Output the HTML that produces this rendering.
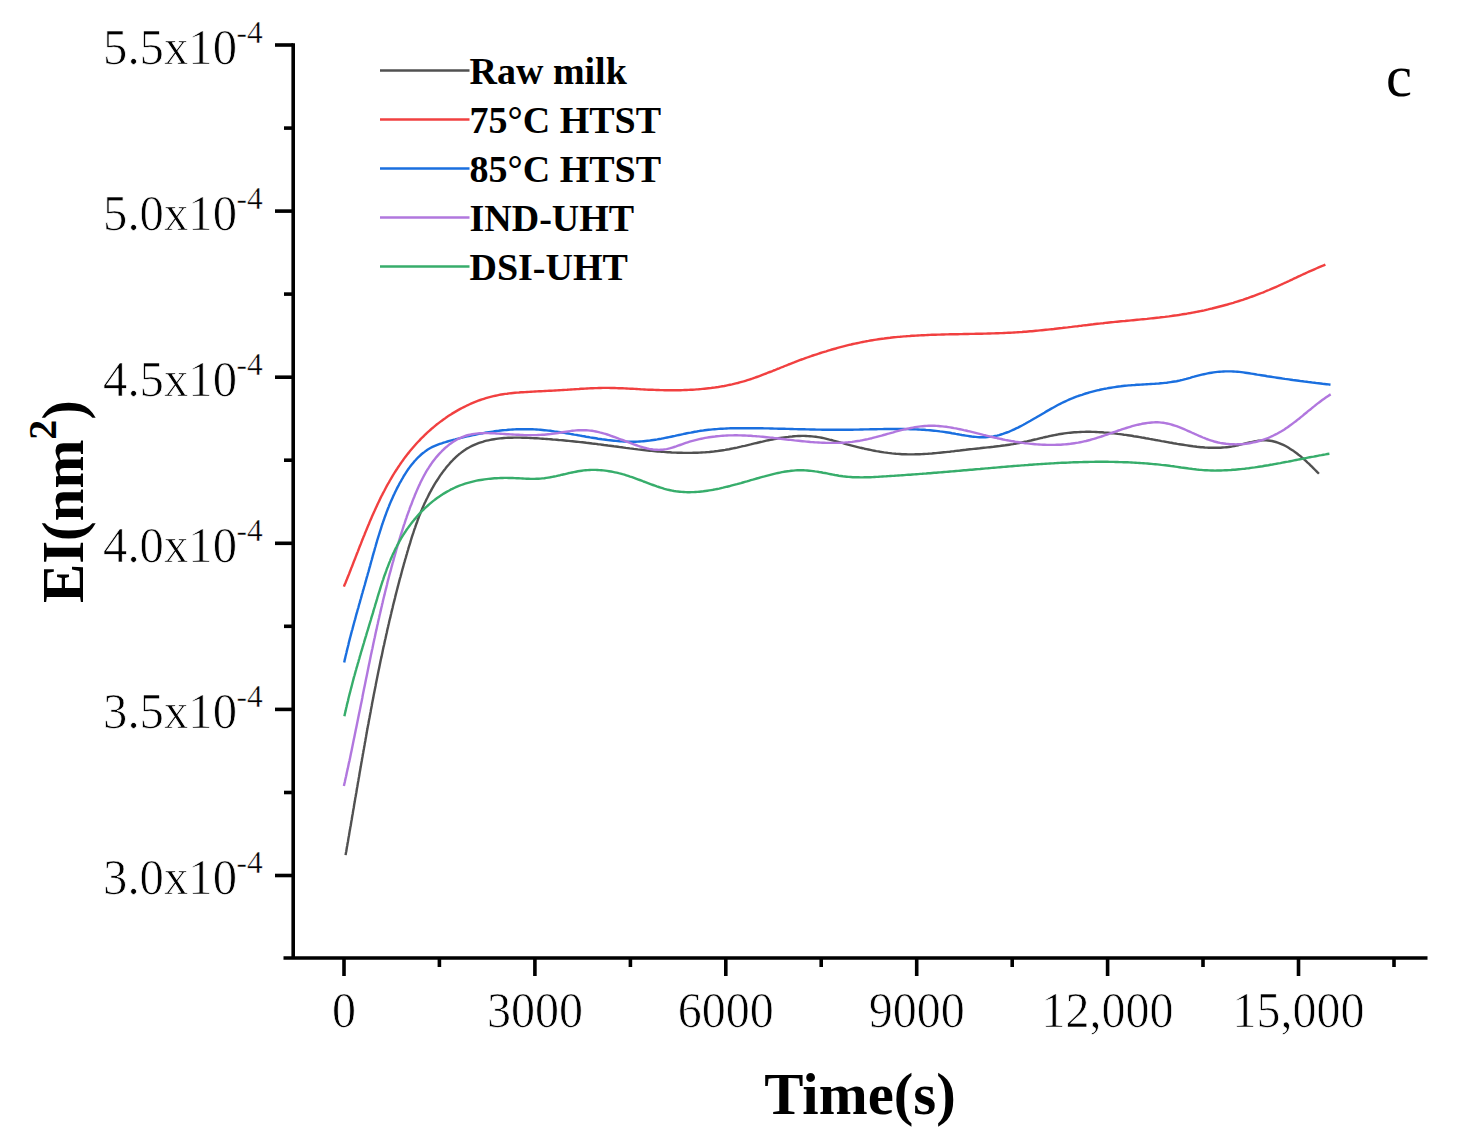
<!DOCTYPE html>
<html><head><meta charset="utf-8"><title>EI chart</title>
<style>html,body{margin:0;padding:0;background:#fff;}body{width:1457px;height:1135px;overflow:hidden;font-family:"Liberation Serif",serif;}svg{display:block;}</style>
</head><body>
<svg width="1457" height="1135" viewBox="0 0 1457 1135">
<rect width="1457" height="1135" fill="#fff"/>
<g stroke="#000" stroke-width="3.6" fill="none" stroke-linecap="butt">
<path d="M293.2 43.2 V958.0"/>
<path d="M283.5 958.0 H1427.5"/>
<path d="M275 45.0 H293.2"/>
<path d="M275 211.1 H293.2"/>
<path d="M275 377.2 H293.2"/>
<path d="M275 543.3 H293.2"/>
<path d="M275 709.4 H293.2"/>
<path d="M275 875.5 H293.2"/>
<path d="M284 128.1 H293.2"/>
<path d="M284 294.1 H293.2"/>
<path d="M284 460.2 H293.2"/>
<path d="M284 626.3 H293.2"/>
<path d="M284 792.5 H293.2"/>
<path d="M344.0 958.0 V976"/>
<path d="M534.9 958.0 V976"/>
<path d="M725.8 958.0 V976"/>
<path d="M916.7 958.0 V976"/>
<path d="M1107.6 958.0 V976"/>
<path d="M1298.5 958.0 V976"/>
<path d="M439.4 958.0 V967"/>
<path d="M630.4 958.0 V967"/>
<path d="M821.2 958.0 V967"/>
<path d="M1012.2 958.0 V967"/>
<path d="M1203.0 958.0 V967"/>
<path d="M1394.0 958.0 V967"/>
</g>
<g font-family="Liberation Serif" fill="#000" stroke="#fff" stroke-width="0.7">
<g transform="translate(237 63.8) scale(1.015 1.050)"><text x="0" y="0" font-size="48" text-anchor="end">5.5x10</text><text x="-0.5" y="-20" font-size="31" stroke-width="0.4">-4</text></g>
<g transform="translate(237 229.9) scale(1.015 1.050)"><text x="0" y="0" font-size="48" text-anchor="end">5.0x10</text><text x="-0.5" y="-20" font-size="31" stroke-width="0.4">-4</text></g>
<g transform="translate(237 396.0) scale(1.015 1.050)"><text x="0" y="0" font-size="48" text-anchor="end">4.5x10</text><text x="-0.5" y="-20" font-size="31" stroke-width="0.4">-4</text></g>
<g transform="translate(237 562.1) scale(1.015 1.050)"><text x="0" y="0" font-size="48" text-anchor="end">4.0x10</text><text x="-0.5" y="-20" font-size="31" stroke-width="0.4">-4</text></g>
<g transform="translate(237 728.2) scale(1.015 1.050)"><text x="0" y="0" font-size="48" text-anchor="end">3.5x10</text><text x="-0.5" y="-20" font-size="31" stroke-width="0.4">-4</text></g>
<g transform="translate(237 894.3) scale(1.015 1.050)"><text x="0" y="0" font-size="48" text-anchor="end">3.0x10</text><text x="-0.5" y="-20" font-size="31" stroke-width="0.4">-4</text></g>
<g transform="translate(344.0 1026.8) scale(1 1.050)"><text x="0" y="0" font-size="48" text-anchor="middle">0</text></g>
<g transform="translate(534.9 1026.8) scale(1 1.050)"><text x="0" y="0" font-size="48" text-anchor="middle">3000</text></g>
<g transform="translate(725.8 1026.8) scale(1 1.050)"><text x="0" y="0" font-size="48" text-anchor="middle">6000</text></g>
<g transform="translate(916.7 1026.8) scale(1 1.050)"><text x="0" y="0" font-size="48" text-anchor="middle">9000</text></g>
<g transform="translate(1107.6 1026.8) scale(1 1.050)"><text x="0" y="0" font-size="48" text-anchor="middle">12,000</text></g>
<g transform="translate(1298.5 1026.8) scale(1 1.050)"><text x="0" y="0" font-size="48" text-anchor="middle">15,000</text></g>
</g>
<text x="860" y="1114" font-family="Liberation Serif" font-weight="bold" font-size="58.8" text-anchor="middle">Time(s)</text>
<g transform="translate(82.5 603) rotate(-90)"><text x="0" y="0" font-family="Liberation Serif" font-weight="bold" font-size="58.8">EI(nm<tspan font-size="40" dy="-27">2</tspan><tspan dy="27">)</tspan></text></g>
<text x="1386" y="96.3" font-family="Liberation Serif" font-size="58.5">c</text>
<path d="M380 70.5 H469.5" stroke="#515151" stroke-width="2.6"/>
<text x="469.5" y="84.3" font-family="Liberation Serif" font-weight="bold" font-size="38">Raw milk</text>
<path d="M380 119.5 H469.5" stroke="#F14040" stroke-width="2.6"/>
<text x="469.5" y="133.3" font-family="Liberation Serif" font-weight="bold" font-size="38">75°C HTST</text>
<path d="M380 168.5 H469.5" stroke="#1A6FDF" stroke-width="2.6"/>
<text x="469.5" y="182.3" font-family="Liberation Serif" font-weight="bold" font-size="38">85°C HTST</text>
<path d="M380 217.5 H469.5" stroke="#B177DE" stroke-width="2.6"/>
<text x="469.5" y="231.3" font-family="Liberation Serif" font-weight="bold" font-size="38">IND-UHT</text>
<path d="M380 266.5 H469.5" stroke="#37AD6B" stroke-width="2.6"/>
<text x="469.5" y="280.3" font-family="Liberation Serif" font-weight="bold" font-size="38">DSI-UHT</text>
<g fill="none" stroke-width="2.4" stroke-linejoin="round" stroke-linecap="butt">
<path stroke="#515151" d="M345.6 855.1 L345.9 853.1 L346.3 851.2 L346.6 849.2 L346.9 847.2 L347.3 845.3 L347.6 843.3 L348.0 841.4 L348.3 839.4 L348.6 837.4 L349.0 835.5 L349.3 833.5 L349.6 831.6 L350.0 829.6 L350.3 827.6 L350.7 825.7 L351.0 823.7 L351.3 821.7 L351.7 819.8 L352.0 817.8 L352.3 815.8 L352.7 813.9 L353.0 811.9 L353.3 809.9 L353.7 808.0 L354.0 806.0 L354.3 804.0 L354.7 802.1 L355.0 800.1 L355.3 798.1 L355.7 796.2 L356.0 794.2 L356.4 792.2 L356.7 790.3 L357.0 788.3 L357.4 786.3 L357.7 784.4 L358.0 782.4 L358.4 780.4 L358.7 778.4 L359.1 776.5 L359.4 774.5 L359.7 772.5 L360.1 770.6 L360.4 768.6 L360.8 766.6 L361.1 764.6 L361.4 762.7 L361.8 760.7 L362.1 758.7 L362.5 756.8 L362.8 754.8 L363.2 752.8 L363.5 750.8 L363.9 748.9 L364.2 746.9 L364.6 744.9 L364.9 742.9 L365.3 741.0 L365.6 739.0 L366.0 737.0 L366.3 735.1 L366.7 733.1 L367.0 731.1 L367.4 729.1 L367.7 727.2 L368.1 725.2 L368.5 723.2 L368.8 721.3 L369.2 719.3 L369.6 717.3 L369.9 715.4 L370.3 713.4 L370.7 711.4 L371.0 709.4 L371.4 707.5 L371.8 705.5 L372.1 703.5 L372.5 701.6 L372.9 699.6 L373.3 697.6 L373.6 695.7 L374.0 693.7 L374.4 691.7 L374.8 689.8 L375.2 687.8 L375.6 685.8 L375.9 683.9 L376.3 681.9 L376.7 679.9 L377.1 678.0 L377.5 676.0 L377.9 674.1 L378.3 672.1 L378.7 670.1 L379.1 668.2 L379.5 666.2 L379.9 664.3 L380.3 662.3 L380.7 660.3 L381.1 658.4 L381.6 656.4 L382.0 654.5 L382.4 652.5 L382.8 650.5 L383.2 648.6 L383.6 646.6 L384.1 644.7 L384.5 642.7 L384.9 640.8 L385.4 638.8 L385.8 636.9 L386.2 634.9 L386.7 633.0 L387.1 631.0 L387.5 629.1 L388.0 627.1 L388.4 625.2 L388.9 623.2 L389.3 621.3 L389.8 619.3 L390.3 617.4 L390.7 615.5 L391.2 613.5 L391.6 611.6 L392.1 609.6 L392.6 607.7 L393.0 605.8 L393.5 603.8 L394.0 601.9 L394.5 599.9 L395.0 598.0 L395.4 596.1 L395.9 594.1 L396.4 592.2 L396.9 590.3 L397.4 588.4 L397.9 586.4 L398.4 584.5 L398.9 582.6 L399.4 580.6 L399.9 578.7 L400.5 576.8 L401.0 574.9 L401.5 573.0 L402.0 571.0 L402.5 569.1 L403.1 567.2 L403.6 565.3 L404.1 563.4 L404.7 561.4 L405.2 559.5 L405.8 557.6 L406.3 555.7 L406.9 553.8 L407.4 551.9 L408.0 550.0 L408.5 548.1 L409.1 546.2 L409.7 544.3 L410.3 542.4 L410.8 540.5 L411.4 538.6 L412.0 536.7 L412.6 534.8 L413.3 532.9 L413.9 531.0 L414.5 529.2 L415.2 527.3 L415.8 525.4 L416.5 523.5 L417.2 521.7 L417.8 519.8 L418.5 518.0 L419.2 516.1 L420.0 514.3 L420.7 512.4 L421.5 510.6 L422.2 508.8 L423.0 507.0 L423.8 505.1 L424.6 503.3 L425.5 501.5 L426.3 499.7 L427.2 498.0 L428.1 496.2 L429.0 494.4 L429.9 492.6 L430.9 490.9 L431.8 489.1 L432.8 487.4 L433.8 485.6 L434.8 483.9 L435.9 482.2 L437.0 480.5 L438.1 478.8 L439.2 477.1 L440.3 475.4 L441.5 473.8 L442.7 472.1 L443.9 470.5 L445.2 468.9 L446.4 467.3 L447.7 465.7 L449.1 464.2 L450.4 462.6 L451.8 461.2 L453.2 459.7 L454.6 458.3 L456.1 456.9 L457.5 455.6 L459.0 454.3 L460.6 453.1 L462.1 451.9 L463.7 450.8 L465.3 449.7 L466.9 448.6 L468.6 447.7 L470.3 446.8 L472.0 445.9 L473.7 445.1 L475.5 444.3 L477.3 443.6 L479.1 442.9 L480.9 442.3 L482.7 441.8 L484.6 441.2 L486.5 440.7 L488.4 440.3 L490.3 439.9 L492.2 439.5 L494.1 439.2 L496.1 438.9 L498.0 438.6 L500.0 438.4 L502.0 438.2 L504.0 438.0 L506.0 437.9 L508.0 437.8 L510.0 437.7 L512.1 437.7 L514.1 437.6 L516.1 437.6 L518.2 437.6 L520.2 437.6 L522.3 437.7 L524.3 437.7 L526.4 437.8 L528.4 437.9 L530.5 438.0 L532.5 438.1 L534.6 438.2 L536.6 438.3 L538.6 438.4 L540.7 438.6 L542.7 438.7 L544.7 438.9 L546.7 439.0 L548.7 439.1 L550.7 439.3 L552.7 439.5 L554.7 439.6 L556.7 439.8 L558.7 440.0 L560.7 440.1 L562.7 440.3 L564.7 440.5 L566.6 440.7 L568.6 440.9 L570.6 441.1 L572.5 441.3 L574.5 441.5 L576.5 441.7 L578.4 441.9 L580.4 442.1 L582.4 442.3 L584.3 442.5 L586.3 442.8 L588.3 443.0 L590.2 443.2 L592.2 443.5 L594.2 443.7 L596.1 443.9 L598.1 444.2 L600.1 444.4 L602.0 444.7 L604.0 445.0 L606.0 445.2 L608.0 445.5 L610.0 445.7 L611.9 446.0 L613.9 446.3 L615.9 446.5 L617.9 446.8 L619.9 447.1 L621.8 447.3 L623.8 447.6 L625.8 447.9 L627.8 448.1 L629.8 448.4 L631.8 448.6 L633.8 448.9 L635.8 449.1 L637.8 449.4 L639.8 449.6 L641.7 449.8 L643.7 450.1 L645.7 450.3 L647.7 450.5 L649.7 450.7 L651.7 450.9 L653.7 451.1 L655.7 451.3 L657.7 451.5 L659.7 451.6 L661.7 451.8 L663.7 451.9 L665.7 452.1 L667.7 452.2 L669.7 452.3 L671.7 452.5 L673.6 452.6 L675.6 452.6 L677.6 452.7 L679.6 452.8 L681.6 452.8 L683.6 452.9 L685.6 452.9 L687.6 452.9 L689.6 452.9 L691.6 452.9 L693.5 452.8 L695.5 452.8 L697.5 452.7 L699.5 452.6 L701.5 452.5 L703.5 452.4 L705.5 452.3 L707.4 452.1 L709.4 452.0 L711.4 451.8 L713.4 451.6 L715.3 451.3 L717.3 451.1 L719.3 450.8 L721.3 450.5 L723.2 450.2 L725.2 449.9 L727.2 449.5 L729.1 449.2 L731.1 448.8 L733.1 448.4 L735.0 448.0 L737.0 447.6 L739.0 447.1 L740.9 446.7 L742.9 446.2 L744.8 445.8 L746.8 445.3 L748.8 444.8 L750.7 444.4 L752.7 443.9 L754.6 443.4 L756.6 443.0 L758.6 442.5 L760.5 442.0 L762.5 441.6 L764.5 441.1 L766.4 440.7 L768.4 440.3 L770.4 439.9 L772.3 439.5 L774.3 439.1 L776.3 438.7 L778.2 438.3 L780.2 438.0 L782.2 437.7 L784.2 437.4 L786.2 437.1 L788.1 436.9 L790.1 436.6 L792.1 436.5 L794.1 436.3 L796.1 436.1 L798.1 436.0 L800.0 436.0 L802.0 435.9 L804.0 435.9 L806.0 436.0 L807.9 436.1 L809.9 436.2 L811.9 436.4 L813.9 436.6 L815.8 436.8 L817.8 437.1 L819.7 437.4 L821.7 437.8 L823.6 438.2 L825.6 438.6 L827.5 439.1 L829.5 439.6 L831.4 440.0 L833.4 440.6 L835.3 441.1 L837.3 441.6 L839.2 442.1 L841.1 442.7 L843.1 443.2 L845.0 443.8 L847.0 444.3 L848.9 444.8 L850.9 445.3 L852.8 445.8 L854.8 446.3 L856.7 446.8 L858.7 447.3 L860.6 447.8 L862.6 448.2 L864.5 448.7 L866.5 449.1 L868.4 449.5 L870.4 449.9 L872.3 450.3 L874.3 450.7 L876.3 451.1 L878.2 451.4 L880.2 451.8 L882.1 452.1 L884.1 452.4 L886.1 452.6 L888.1 452.9 L890.0 453.1 L892.0 453.4 L894.0 453.6 L895.9 453.8 L897.9 453.9 L899.9 454.0 L901.9 454.2 L903.9 454.3 L905.9 454.3 L907.9 454.4 L909.8 454.4 L911.8 454.4 L913.8 454.4 L915.8 454.3 L917.8 454.3 L919.8 454.2 L921.8 454.1 L923.8 454.0 L925.8 453.9 L927.8 453.8 L929.8 453.6 L931.8 453.5 L933.8 453.3 L935.8 453.1 L937.8 452.9 L939.8 452.7 L941.8 452.5 L943.8 452.3 L945.8 452.1 L947.8 451.9 L949.8 451.7 L951.8 451.4 L953.8 451.2 L955.8 450.9 L957.8 450.7 L959.8 450.5 L961.8 450.2 L963.8 450.0 L965.8 449.8 L967.8 449.5 L969.8 449.3 L971.8 449.1 L973.8 448.9 L975.7 448.7 L977.7 448.5 L979.7 448.3 L981.7 448.0 L983.7 447.8 L985.6 447.6 L987.6 447.4 L989.6 447.2 L991.5 447.0 L993.5 446.8 L995.5 446.5 L997.5 446.3 L999.4 446.1 L1001.4 445.8 L1003.4 445.5 L1005.3 445.3 L1007.3 445.0 L1009.3 444.7 L1011.2 444.4 L1013.2 444.1 L1015.1 443.7 L1017.1 443.4 L1019.1 443.0 L1021.0 442.6 L1023.0 442.2 L1025.0 441.8 L1026.9 441.4 L1028.9 440.9 L1030.9 440.5 L1032.8 440.0 L1034.8 439.5 L1036.8 439.1 L1038.7 438.6 L1040.7 438.1 L1042.7 437.7 L1044.6 437.2 L1046.6 436.8 L1048.6 436.3 L1050.6 435.9 L1052.5 435.5 L1054.5 435.1 L1056.5 434.7 L1058.4 434.3 L1060.4 434.0 L1062.4 433.7 L1064.4 433.4 L1066.4 433.1 L1068.3 432.9 L1070.3 432.7 L1072.3 432.5 L1074.3 432.3 L1076.2 432.2 L1078.2 432.1 L1080.2 432.0 L1082.2 431.9 L1084.2 431.9 L1086.2 431.8 L1088.1 431.8 L1090.1 431.8 L1092.1 431.9 L1094.1 431.9 L1096.1 432.0 L1098.1 432.1 L1100.0 432.2 L1102.0 432.3 L1104.0 432.5 L1106.0 432.6 L1108.0 432.8 L1110.0 433.0 L1111.9 433.2 L1113.9 433.4 L1115.9 433.6 L1117.9 433.9 L1119.9 434.1 L1121.9 434.4 L1123.9 434.7 L1125.8 434.9 L1127.8 435.2 L1129.8 435.5 L1131.8 435.8 L1133.8 436.2 L1135.8 436.5 L1137.7 436.8 L1139.7 437.1 L1141.7 437.5 L1143.7 437.8 L1145.7 438.2 L1147.7 438.5 L1149.6 438.9 L1151.6 439.2 L1153.6 439.6 L1155.6 440.0 L1157.6 440.3 L1159.5 440.7 L1161.5 441.1 L1163.5 441.4 L1165.5 441.8 L1167.4 442.1 L1169.4 442.5 L1171.4 442.8 L1173.4 443.2 L1175.3 443.5 L1177.3 443.9 L1179.3 444.2 L1181.2 444.5 L1183.2 444.8 L1185.2 445.1 L1187.1 445.4 L1189.1 445.7 L1191.1 446.0 L1193.0 446.3 L1195.0 446.5 L1196.9 446.8 L1198.9 447.0 L1200.9 447.2 L1202.8 447.3 L1204.8 447.5 L1206.8 447.6 L1208.7 447.7 L1210.7 447.8 L1212.7 447.8 L1214.6 447.8 L1216.6 447.8 L1218.6 447.8 L1220.6 447.7 L1222.5 447.5 L1224.5 447.4 L1226.5 447.2 L1228.5 447.0 L1230.5 446.7 L1232.4 446.4 L1234.4 446.0 L1236.4 445.6 L1238.4 445.2 L1240.4 444.7 L1242.4 444.2 L1244.4 443.7 L1246.4 443.2 L1248.4 442.7 L1250.4 442.3 L1252.4 441.8 L1254.3 441.4 L1256.3 441.1 L1258.3 440.8 L1260.3 440.6 L1262.2 440.4 L1264.2 440.3 L1266.2 440.3 L1268.1 440.5 L1270.1 440.7 L1272.0 441.0 L1273.9 441.5 L1275.8 442.0 L1277.7 442.6 L1279.6 443.3 L1281.4 444.1 L1283.3 444.9 L1285.1 445.8 L1286.9 446.8 L1288.6 447.8 L1290.3 448.9 L1292.0 450.0 L1293.7 451.1 L1295.3 452.3 L1297.0 453.5 L1298.5 454.7 L1300.1 455.9 L1301.6 457.2 L1303.2 458.5 L1304.7 459.9 L1306.1 461.2 L1307.6 462.6 L1309.1 463.9 L1310.5 465.3 L1311.9 466.7 L1313.3 468.1 L1314.7 469.5 L1316.1 470.9 L1317.5 472.3 L1318.9 473.8"/>
<path stroke="#F14040" d="M343.9 586.6 L344.6 584.8 L345.4 583.0 L346.1 581.2 L346.9 579.3 L347.6 577.5 L348.3 575.7 L349.1 573.9 L349.8 572.0 L350.5 570.2 L351.2 568.3 L352.0 566.5 L352.7 564.6 L353.4 562.8 L354.1 560.9 L354.9 559.1 L355.6 557.2 L356.3 555.4 L357.0 553.5 L357.8 551.6 L358.5 549.8 L359.2 547.9 L359.9 546.0 L360.7 544.2 L361.4 542.3 L362.1 540.4 L362.9 538.6 L363.6 536.7 L364.4 534.9 L365.1 533.0 L365.9 531.1 L366.7 529.3 L367.4 527.4 L368.2 525.6 L369.0 523.7 L369.7 521.9 L370.5 520.0 L371.3 518.2 L372.1 516.3 L372.9 514.5 L373.7 512.7 L374.6 510.8 L375.4 509.0 L376.2 507.2 L377.1 505.4 L377.9 503.5 L378.8 501.7 L379.7 499.9 L380.5 498.1 L381.4 496.3 L382.3 494.6 L383.2 492.8 L384.2 491.0 L385.1 489.2 L386.0 487.5 L387.0 485.7 L387.9 484.0 L388.9 482.3 L389.9 480.5 L390.9 478.8 L391.9 477.1 L392.9 475.4 L394.0 473.7 L395.0 472.0 L396.1 470.3 L397.2 468.7 L398.3 467.0 L399.4 465.4 L400.5 463.7 L401.6 462.1 L402.8 460.5 L403.9 458.9 L405.1 457.3 L406.3 455.7 L407.5 454.1 L408.8 452.6 L410.0 451.0 L411.3 449.5 L412.6 448.0 L413.9 446.5 L415.2 445.0 L416.5 443.5 L417.9 442.0 L419.3 440.6 L420.6 439.1 L422.1 437.7 L423.5 436.3 L424.9 434.9 L426.4 433.5 L427.8 432.1 L429.3 430.8 L430.8 429.5 L432.3 428.2 L433.9 426.9 L435.4 425.6 L437.0 424.3 L438.6 423.1 L440.2 421.9 L441.8 420.7 L443.4 419.5 L445.0 418.4 L446.6 417.2 L448.3 416.1 L450.0 415.0 L451.7 413.9 L453.4 412.9 L455.1 411.9 L456.8 410.9 L458.5 409.9 L460.3 408.9 L462.0 408.0 L463.8 407.1 L465.6 406.2 L467.4 405.3 L469.2 404.5 L471.0 403.7 L472.8 402.9 L474.6 402.1 L476.5 401.4 L478.3 400.7 L480.2 400.0 L482.0 399.4 L483.9 398.8 L485.8 398.2 L487.7 397.6 L489.6 397.1 L491.5 396.6 L493.4 396.1 L495.4 395.7 L497.3 395.3 L499.2 394.9 L501.2 394.5 L503.1 394.2 L505.1 393.9 L507.1 393.7 L509.1 393.4 L511.0 393.2 L513.0 393.0 L515.0 392.8 L517.0 392.6 L519.0 392.5 L521.0 392.3 L523.0 392.2 L525.0 392.1 L527.0 392.0 L529.0 391.9 L531.0 391.7 L533.0 391.6 L535.0 391.5 L537.0 391.4 L539.0 391.3 L541.0 391.2 L543.0 391.1 L545.0 391.0 L547.1 390.9 L549.1 390.8 L551.1 390.7 L553.1 390.6 L555.1 390.5 L557.1 390.4 L559.1 390.2 L561.1 390.1 L563.1 390.0 L565.1 389.9 L567.1 389.8 L569.1 389.6 L571.0 389.5 L573.0 389.4 L575.0 389.2 L577.0 389.1 L579.0 389.0 L581.0 388.8 L583.0 388.7 L585.0 388.6 L587.0 388.5 L588.9 388.4 L590.9 388.3 L592.9 388.2 L594.9 388.1 L596.9 388.1 L598.8 388.0 L600.8 388.0 L602.8 387.9 L604.8 387.9 L606.8 387.9 L608.8 387.9 L610.7 388.0 L612.7 388.0 L614.7 388.0 L616.7 388.1 L618.7 388.2 L620.7 388.2 L622.6 388.3 L624.6 388.4 L626.6 388.5 L628.6 388.6 L630.6 388.7 L632.6 388.8 L634.6 388.9 L636.6 389.0 L638.6 389.1 L640.5 389.3 L642.5 389.4 L644.5 389.5 L646.5 389.6 L648.5 389.7 L650.5 389.8 L652.5 389.8 L654.5 389.9 L656.5 390.0 L658.5 390.0 L660.5 390.1 L662.5 390.1 L664.6 390.2 L666.6 390.2 L668.6 390.2 L670.6 390.2 L672.6 390.3 L674.6 390.2 L676.6 390.2 L678.6 390.2 L680.6 390.2 L682.6 390.1 L684.6 390.0 L686.6 390.0 L688.6 389.9 L690.6 389.8 L692.6 389.7 L694.6 389.6 L696.6 389.4 L698.6 389.3 L700.6 389.1 L702.6 388.9 L704.5 388.7 L706.5 388.5 L708.5 388.3 L710.5 388.1 L712.5 387.8 L714.4 387.6 L716.4 387.3 L718.4 387.0 L720.3 386.6 L722.3 386.3 L724.3 386.0 L726.2 385.6 L728.1 385.2 L730.1 384.8 L732.0 384.4 L734.0 383.9 L735.9 383.4 L737.8 383.0 L739.7 382.4 L741.7 381.9 L743.6 381.4 L745.5 380.8 L747.4 380.2 L749.3 379.6 L751.2 379.0 L753.0 378.3 L754.9 377.7 L756.8 377.0 L758.7 376.3 L760.6 375.6 L762.4 374.9 L764.3 374.2 L766.2 373.5 L768.0 372.7 L769.9 372.0 L771.8 371.3 L773.6 370.5 L775.5 369.8 L777.3 369.0 L779.2 368.3 L781.1 367.5 L782.9 366.8 L784.8 366.0 L786.6 365.3 L788.5 364.5 L790.4 363.8 L792.2 363.1 L794.1 362.4 L796.0 361.6 L797.9 360.9 L799.7 360.2 L801.6 359.5 L803.5 358.9 L805.4 358.2 L807.2 357.5 L809.1 356.8 L811.0 356.2 L812.9 355.5 L814.8 354.9 L816.7 354.3 L818.6 353.7 L820.5 353.0 L822.4 352.4 L824.3 351.8 L826.2 351.3 L828.1 350.7 L830.0 350.1 L831.9 349.5 L833.8 349.0 L835.7 348.5 L837.6 347.9 L839.5 347.4 L841.4 346.9 L843.4 346.4 L845.3 345.9 L847.2 345.4 L849.1 344.9 L851.1 344.5 L853.0 344.0 L854.9 343.6 L856.9 343.2 L858.8 342.8 L860.7 342.4 L862.7 342.0 L864.6 341.6 L866.6 341.2 L868.5 340.9 L870.5 340.5 L872.4 340.2 L874.4 339.9 L876.3 339.6 L878.3 339.3 L880.2 339.0 L882.2 338.7 L884.2 338.5 L886.1 338.2 L888.1 338.0 L890.1 337.8 L892.0 337.5 L894.0 337.3 L896.0 337.1 L898.0 336.9 L900.0 336.8 L901.9 336.6 L903.9 336.4 L905.9 336.3 L907.9 336.1 L909.9 336.0 L911.9 335.8 L913.9 335.7 L915.9 335.6 L917.9 335.5 L919.8 335.4 L921.8 335.3 L923.8 335.2 L925.8 335.1 L927.8 335.0 L929.8 334.9 L931.8 334.8 L933.8 334.8 L935.8 334.7 L937.8 334.6 L939.8 334.6 L941.9 334.5 L943.9 334.5 L945.9 334.4 L947.9 334.4 L949.9 334.3 L951.9 334.3 L953.9 334.2 L955.9 334.2 L957.9 334.2 L959.9 334.1 L961.9 334.1 L963.9 334.0 L965.9 334.0 L968.0 334.0 L970.0 333.9 L972.0 333.9 L974.0 333.9 L976.0 333.8 L978.0 333.8 L980.0 333.7 L982.0 333.7 L984.0 333.6 L986.0 333.6 L988.0 333.5 L990.0 333.5 L992.0 333.4 L994.1 333.4 L996.1 333.3 L998.1 333.2 L1000.1 333.1 L1002.1 333.1 L1004.1 333.0 L1006.1 332.9 L1008.1 332.8 L1010.1 332.7 L1012.1 332.6 L1014.1 332.5 L1016.1 332.4 L1018.0 332.2 L1020.0 332.1 L1022.0 332.0 L1024.0 331.8 L1026.0 331.7 L1028.0 331.5 L1030.0 331.3 L1032.0 331.2 L1034.0 331.0 L1035.9 330.8 L1037.9 330.6 L1039.9 330.4 L1041.9 330.2 L1043.9 330.0 L1045.9 329.8 L1047.8 329.6 L1049.8 329.4 L1051.8 329.2 L1053.8 329.0 L1055.7 328.7 L1057.7 328.5 L1059.7 328.3 L1061.7 328.1 L1063.7 327.8 L1065.6 327.6 L1067.6 327.4 L1069.6 327.1 L1071.6 326.9 L1073.5 326.6 L1075.5 326.4 L1077.5 326.2 L1079.5 325.9 L1081.4 325.7 L1083.4 325.4 L1085.4 325.2 L1087.4 325.0 L1089.4 324.7 L1091.3 324.5 L1093.3 324.3 L1095.3 324.0 L1097.3 323.8 L1099.3 323.6 L1101.2 323.4 L1103.2 323.2 L1105.2 322.9 L1107.2 322.7 L1109.2 322.5 L1111.2 322.3 L1113.2 322.1 L1115.1 321.9 L1117.1 321.7 L1119.1 321.5 L1121.1 321.3 L1123.1 321.1 L1125.1 321.0 L1127.1 320.8 L1129.1 320.6 L1131.1 320.4 L1133.1 320.2 L1135.1 320.0 L1137.1 319.8 L1139.1 319.6 L1141.0 319.4 L1143.0 319.2 L1145.0 319.1 L1147.0 318.9 L1149.0 318.6 L1151.0 318.4 L1153.0 318.2 L1155.0 318.0 L1157.0 317.8 L1159.0 317.6 L1161.0 317.3 L1162.9 317.1 L1164.9 316.9 L1166.9 316.6 L1168.9 316.4 L1170.9 316.1 L1172.9 315.8 L1174.8 315.5 L1176.8 315.3 L1178.8 315.0 L1180.8 314.6 L1182.7 314.3 L1184.7 314.0 L1186.7 313.7 L1188.6 313.3 L1190.6 313.0 L1192.6 312.6 L1194.5 312.3 L1196.5 311.9 L1198.5 311.5 L1200.4 311.1 L1202.4 310.7 L1204.3 310.3 L1206.3 309.8 L1208.2 309.4 L1210.2 308.9 L1212.1 308.5 L1214.0 308.0 L1216.0 307.5 L1217.9 307.0 L1219.8 306.5 L1221.8 306.0 L1223.7 305.5 L1225.6 305.0 L1227.5 304.5 L1229.4 303.9 L1231.4 303.3 L1233.3 302.8 L1235.2 302.2 L1237.1 301.6 L1239.0 301.0 L1240.9 300.4 L1242.8 299.8 L1244.7 299.1 L1246.6 298.5 L1248.4 297.9 L1250.3 297.2 L1252.2 296.5 L1254.1 295.8 L1255.9 295.1 L1257.8 294.4 L1259.7 293.7 L1261.5 293.0 L1263.4 292.3 L1265.2 291.5 L1267.1 290.7 L1268.9 290.0 L1270.8 289.2 L1272.6 288.4 L1274.4 287.6 L1276.3 286.8 L1278.1 286.0 L1279.9 285.2 L1281.7 284.3 L1283.5 283.5 L1285.4 282.7 L1287.2 281.8 L1289.0 281.0 L1290.8 280.1 L1292.6 279.3 L1294.4 278.4 L1296.2 277.6 L1298.1 276.7 L1299.9 275.9 L1301.7 275.0 L1303.5 274.2 L1305.3 273.4 L1307.1 272.5 L1308.9 271.7 L1310.8 270.9 L1312.6 270.1 L1314.4 269.3 L1316.2 268.5 L1318.1 267.7 L1319.9 266.9 L1321.7 266.1 L1323.6 265.4 L1325.4 264.6"/>
<path stroke="#1A6FDF" d="M344.2 662.4 L344.6 660.4 L345.1 658.4 L345.5 656.5 L346.0 654.5 L346.5 652.5 L346.9 650.6 L347.4 648.6 L347.9 646.7 L348.4 644.8 L348.8 642.8 L349.3 640.9 L349.8 638.9 L350.3 637.0 L350.8 635.1 L351.3 633.1 L351.8 631.2 L352.4 629.3 L352.9 627.3 L353.4 625.4 L353.9 623.5 L354.4 621.6 L355.0 619.6 L355.5 617.7 L356.0 615.8 L356.5 613.9 L357.1 611.9 L357.6 610.0 L358.2 608.1 L358.7 606.2 L359.2 604.3 L359.8 602.4 L360.3 600.4 L360.9 598.5 L361.4 596.6 L361.9 594.7 L362.5 592.8 L363.0 590.8 L363.6 588.9 L364.1 587.0 L364.7 585.1 L365.2 583.2 L365.8 581.2 L366.3 579.3 L366.8 577.4 L367.4 575.5 L367.9 573.5 L368.5 571.6 L369.0 569.7 L369.5 567.8 L370.1 565.8 L370.6 563.9 L371.1 562.0 L371.7 560.0 L372.2 558.1 L372.7 556.2 L373.3 554.2 L373.8 552.3 L374.4 550.4 L374.9 548.5 L375.5 546.5 L376.0 544.6 L376.6 542.7 L377.1 540.7 L377.7 538.8 L378.3 536.9 L378.9 535.0 L379.5 533.1 L380.1 531.2 L380.7 529.3 L381.3 527.3 L381.9 525.4 L382.6 523.5 L383.2 521.6 L383.9 519.8 L384.5 517.9 L385.2 516.0 L385.9 514.1 L386.6 512.2 L387.3 510.4 L388.0 508.5 L388.8 506.6 L389.5 504.8 L390.3 502.9 L391.1 501.1 L391.9 499.2 L392.7 497.4 L393.5 495.6 L394.4 493.8 L395.2 492.0 L396.1 490.2 L397.0 488.4 L397.9 486.6 L398.9 484.8 L399.8 483.0 L400.8 481.3 L401.8 479.5 L402.8 477.8 L403.8 476.0 L404.9 474.3 L406.0 472.6 L407.1 470.9 L408.2 469.3 L409.4 467.6 L410.6 466.0 L411.8 464.5 L413.1 462.9 L414.3 461.4 L415.7 460.0 L417.0 458.5 L418.4 457.1 L419.8 455.8 L421.2 454.5 L422.7 453.3 L424.3 452.1 L425.8 450.9 L427.4 449.8 L429.1 448.8 L430.8 447.8 L432.5 446.9 L434.3 446.1 L436.1 445.3 L437.9 444.6 L439.8 443.9 L441.7 443.3 L443.6 442.6 L445.5 442.1 L447.5 441.5 L449.4 440.9 L451.4 440.4 L453.3 439.9 L455.3 439.4 L457.2 438.8 L459.2 438.3 L461.2 437.9 L463.1 437.4 L465.1 436.9 L467.1 436.4 L469.0 436.0 L471.0 435.6 L473.0 435.1 L475.0 434.7 L476.9 434.3 L478.9 433.9 L480.9 433.5 L482.9 433.2 L484.8 432.8 L486.8 432.5 L488.8 432.2 L490.8 431.9 L492.8 431.6 L494.7 431.3 L496.7 431.0 L498.7 430.8 L500.7 430.5 L502.7 430.3 L504.7 430.1 L506.6 430.0 L508.6 429.8 L510.6 429.6 L512.6 429.5 L514.6 429.4 L516.6 429.3 L518.6 429.2 L520.6 429.2 L522.5 429.2 L524.5 429.1 L526.5 429.2 L528.5 429.2 L530.5 429.2 L532.5 429.3 L534.5 429.4 L536.5 429.5 L538.5 429.6 L540.4 429.8 L542.4 430.0 L544.4 430.2 L546.4 430.4 L548.4 430.6 L550.4 430.8 L552.4 431.1 L554.4 431.4 L556.4 431.6 L558.3 431.9 L560.3 432.2 L562.3 432.6 L564.3 432.9 L566.3 433.2 L568.3 433.5 L570.3 433.9 L572.2 434.2 L574.2 434.6 L576.2 434.9 L578.2 435.3 L580.2 435.6 L582.2 436.0 L584.1 436.3 L586.1 436.7 L588.1 437.0 L590.1 437.4 L592.1 437.7 L594.1 438.0 L596.0 438.3 L598.0 438.7 L600.0 439.0 L602.0 439.3 L604.0 439.5 L605.9 439.8 L607.9 440.1 L609.9 440.3 L611.9 440.5 L613.9 440.7 L615.8 440.9 L617.8 441.1 L619.8 441.3 L621.8 441.4 L623.8 441.5 L625.7 441.6 L627.7 441.7 L629.7 441.7 L631.7 441.7 L633.6 441.7 L635.6 441.7 L637.6 441.6 L639.6 441.5 L641.5 441.4 L643.5 441.2 L645.5 441.0 L647.5 440.8 L649.4 440.6 L651.4 440.3 L653.4 440.0 L655.3 439.7 L657.3 439.4 L659.3 439.0 L661.3 438.7 L663.2 438.3 L665.2 437.9 L667.2 437.5 L669.1 437.1 L671.1 436.7 L673.1 436.3 L675.0 435.9 L677.0 435.4 L679.0 435.0 L681.0 434.6 L682.9 434.2 L684.9 433.7 L686.9 433.3 L688.9 432.9 L690.8 432.6 L692.8 432.2 L694.8 431.8 L696.8 431.5 L698.7 431.1 L700.7 430.8 L702.7 430.6 L704.7 430.3 L706.7 430.0 L708.6 429.8 L710.6 429.6 L712.6 429.4 L714.6 429.2 L716.6 429.1 L718.6 428.9 L720.5 428.8 L722.5 428.7 L724.5 428.6 L726.5 428.5 L728.5 428.4 L730.5 428.3 L732.5 428.3 L734.5 428.2 L736.4 428.2 L738.4 428.2 L740.4 428.2 L742.4 428.2 L744.4 428.1 L746.4 428.2 L748.4 428.2 L750.4 428.2 L752.4 428.2 L754.4 428.2 L756.4 428.2 L758.4 428.3 L760.4 428.3 L762.4 428.3 L764.4 428.4 L766.4 428.4 L768.4 428.4 L770.4 428.5 L772.4 428.5 L774.4 428.6 L776.4 428.6 L778.4 428.7 L780.4 428.7 L782.4 428.8 L784.4 428.8 L786.4 428.9 L788.4 428.9 L790.4 429.0 L792.4 429.0 L794.4 429.1 L796.4 429.1 L798.4 429.2 L800.4 429.2 L802.4 429.3 L804.4 429.3 L806.4 429.4 L808.4 429.4 L810.4 429.5 L812.4 429.5 L814.4 429.5 L816.4 429.6 L818.4 429.6 L820.4 429.6 L822.4 429.7 L824.4 429.7 L826.4 429.7 L828.4 429.7 L830.4 429.7 L832.4 429.8 L834.4 429.8 L836.4 429.8 L838.4 429.8 L840.4 429.8 L842.4 429.8 L844.4 429.8 L846.4 429.7 L848.4 429.7 L850.4 429.7 L852.4 429.7 L854.4 429.6 L856.4 429.6 L858.4 429.6 L860.4 429.5 L862.4 429.5 L864.4 429.4 L866.4 429.4 L868.4 429.4 L870.4 429.3 L872.4 429.3 L874.4 429.2 L876.3 429.2 L878.3 429.1 L880.3 429.1 L882.3 429.1 L884.3 429.0 L886.3 429.0 L888.3 429.0 L890.3 429.0 L892.3 429.0 L894.3 429.0 L896.3 429.0 L898.2 429.0 L900.2 429.0 L902.2 429.0 L904.2 429.0 L906.2 429.1 L908.2 429.1 L910.2 429.2 L912.2 429.2 L914.1 429.3 L916.1 429.4 L918.1 429.5 L920.1 429.6 L922.1 429.7 L924.1 429.8 L926.1 430.0 L928.0 430.1 L930.0 430.3 L932.0 430.5 L934.0 430.7 L936.0 430.9 L938.0 431.1 L940.0 431.4 L941.9 431.6 L943.9 431.9 L945.9 432.2 L947.9 432.5 L949.9 432.8 L951.9 433.2 L953.8 433.5 L955.8 433.9 L957.8 434.2 L959.8 434.6 L961.8 435.0 L963.7 435.3 L965.7 435.6 L967.7 435.9 L969.7 436.2 L971.7 436.5 L973.6 436.7 L975.6 436.9 L977.6 437.1 L979.5 437.2 L981.5 437.2 L983.5 437.2 L985.4 437.2 L987.4 437.1 L989.3 436.9 L991.3 436.7 L993.3 436.4 L995.2 436.0 L997.1 435.6 L999.1 435.1 L1001.0 434.5 L1002.9 433.9 L1004.9 433.2 L1006.8 432.5 L1008.7 431.8 L1010.6 431.0 L1012.4 430.2 L1014.3 429.3 L1016.1 428.4 L1018.0 427.6 L1019.8 426.6 L1021.6 425.7 L1023.4 424.8 L1025.2 423.8 L1026.9 422.8 L1028.7 421.8 L1030.5 420.8 L1032.2 419.8 L1033.9 418.8 L1035.7 417.8 L1037.4 416.8 L1039.2 415.7 L1040.9 414.7 L1042.6 413.7 L1044.4 412.7 L1046.1 411.6 L1047.8 410.6 L1049.6 409.6 L1051.3 408.6 L1053.0 407.7 L1054.8 406.7 L1056.5 405.8 L1058.3 404.8 L1060.1 403.9 L1061.8 403.0 L1063.6 402.1 L1065.4 401.3 L1067.2 400.5 L1069.0 399.7 L1070.8 398.9 L1072.7 398.2 L1074.5 397.4 L1076.4 396.7 L1078.2 396.0 L1080.1 395.4 L1082.0 394.8 L1083.9 394.1 L1085.7 393.5 L1087.6 393.0 L1089.5 392.4 L1091.5 391.9 L1093.4 391.4 L1095.3 390.9 L1097.2 390.4 L1099.2 390.0 L1101.1 389.5 L1103.1 389.1 L1105.0 388.7 L1107.0 388.4 L1108.9 388.0 L1110.9 387.7 L1112.9 387.4 L1114.9 387.1 L1116.8 386.8 L1118.8 386.5 L1120.8 386.3 L1122.8 386.0 L1124.8 385.8 L1126.8 385.6 L1128.8 385.4 L1130.8 385.3 L1132.8 385.1 L1134.8 385.0 L1136.8 384.8 L1138.8 384.7 L1140.8 384.6 L1142.8 384.5 L1144.8 384.4 L1146.8 384.2 L1148.8 384.1 L1150.8 384.0 L1152.8 383.9 L1154.8 383.8 L1156.8 383.6 L1158.8 383.5 L1160.8 383.3 L1162.8 383.1 L1164.8 382.9 L1166.8 382.7 L1168.7 382.4 L1170.7 382.1 L1172.7 381.8 L1174.6 381.5 L1176.6 381.2 L1178.6 380.8 L1180.5 380.3 L1182.5 379.9 L1184.4 379.4 L1186.3 378.9 L1188.3 378.3 L1190.2 377.8 L1192.1 377.2 L1194.1 376.7 L1196.0 376.1 L1197.9 375.6 L1199.9 375.1 L1201.8 374.6 L1203.8 374.2 L1205.7 373.8 L1207.7 373.4 L1209.6 373.0 L1211.6 372.7 L1213.6 372.4 L1215.5 372.1 L1217.5 371.9 L1219.5 371.7 L1221.4 371.6 L1223.4 371.5 L1225.4 371.4 L1227.4 371.4 L1229.4 371.4 L1231.3 371.4 L1233.3 371.5 L1235.3 371.6 L1237.3 371.7 L1239.3 371.9 L1241.3 372.1 L1243.3 372.4 L1245.3 372.7 L1247.3 373.0 L1249.2 373.3 L1251.2 373.6 L1253.2 373.9 L1255.2 374.2 L1257.2 374.6 L1259.2 374.9 L1261.2 375.2 L1263.1 375.5 L1265.1 375.8 L1267.1 376.2 L1269.1 376.5 L1271.1 376.8 L1273.1 377.1 L1275.0 377.4 L1277.0 377.7 L1279.0 378.0 L1281.0 378.3 L1282.9 378.6 L1284.9 378.9 L1286.9 379.1 L1288.9 379.4 L1290.9 379.7 L1292.8 380.0 L1294.8 380.2 L1296.8 380.5 L1298.8 380.8 L1300.7 381.1 L1302.7 381.3 L1304.7 381.6 L1306.7 381.8 L1308.7 382.1 L1310.6 382.3 L1312.6 382.6 L1314.6 382.8 L1316.6 383.1 L1318.6 383.3 L1320.6 383.5 L1322.5 383.8 L1324.5 384.0 L1326.5 384.2 L1328.5 384.4 L1330.5 384.7"/>
<path stroke="#B177DE" d="M343.9 786.0 L344.3 784.0 L344.8 782.1 L345.2 780.1 L345.6 778.2 L346.1 776.2 L346.5 774.3 L346.9 772.3 L347.3 770.4 L347.8 768.4 L348.2 766.5 L348.6 764.5 L349.0 762.6 L349.5 760.6 L349.9 758.7 L350.3 756.7 L350.7 754.8 L351.1 752.8 L351.5 750.9 L351.9 748.9 L352.3 746.9 L352.7 745.0 L353.1 743.0 L353.5 741.1 L353.9 739.1 L354.3 737.2 L354.7 735.2 L355.1 733.2 L355.5 731.3 L355.9 729.3 L356.3 727.4 L356.7 725.4 L357.1 723.4 L357.5 721.5 L357.9 719.5 L358.3 717.6 L358.7 715.6 L359.1 713.6 L359.5 711.7 L359.9 709.7 L360.3 707.8 L360.7 705.8 L361.1 703.8 L361.5 701.9 L361.9 699.9 L362.3 698.0 L362.6 696.0 L363.0 694.0 L363.4 692.1 L363.8 690.1 L364.2 688.1 L364.6 686.2 L365.0 684.2 L365.4 682.3 L365.8 680.3 L366.2 678.3 L366.6 676.4 L367.0 674.4 L367.4 672.5 L367.8 670.5 L368.2 668.5 L368.6 666.6 L369.0 664.6 L369.4 662.7 L369.8 660.7 L370.2 658.8 L370.6 656.8 L371.0 654.8 L371.4 652.9 L371.8 650.9 L372.3 649.0 L372.7 647.0 L373.1 645.1 L373.5 643.1 L373.9 641.2 L374.3 639.2 L374.8 637.2 L375.2 635.3 L375.6 633.3 L376.0 631.4 L376.5 629.4 L376.9 627.5 L377.3 625.5 L377.8 623.6 L378.2 621.6 L378.6 619.7 L379.1 617.7 L379.5 615.8 L380.0 613.8 L380.4 611.9 L380.9 609.9 L381.3 608.0 L381.8 606.1 L382.2 604.1 L382.7 602.2 L383.1 600.2 L383.6 598.3 L384.1 596.3 L384.6 594.4 L385.0 592.5 L385.5 590.5 L386.0 588.6 L386.5 586.7 L387.0 584.7 L387.4 582.8 L387.9 580.8 L388.4 578.9 L388.9 577.0 L389.4 575.0 L389.9 573.1 L390.5 571.2 L391.0 569.3 L391.5 567.3 L392.0 565.4 L392.5 563.5 L393.1 561.6 L393.6 559.6 L394.1 557.7 L394.7 555.8 L395.2 553.9 L395.8 551.9 L396.3 550.0 L396.9 548.1 L397.4 546.2 L398.0 544.3 L398.6 542.4 L399.1 540.5 L399.7 538.5 L400.3 536.6 L400.9 534.7 L401.5 532.8 L402.1 530.9 L402.7 529.0 L403.3 527.1 L403.9 525.2 L404.6 523.3 L405.2 521.4 L405.8 519.5 L406.5 517.6 L407.1 515.7 L407.8 513.9 L408.5 512.0 L409.2 510.1 L409.8 508.2 L410.5 506.3 L411.3 504.5 L412.0 502.6 L412.7 500.7 L413.4 498.9 L414.2 497.0 L414.9 495.1 L415.7 493.3 L416.5 491.4 L417.3 489.6 L418.1 487.8 L418.9 485.9 L419.8 484.1 L420.6 482.3 L421.5 480.5 L422.4 478.7 L423.3 477.0 L424.3 475.2 L425.2 473.5 L426.2 471.7 L427.2 470.0 L428.3 468.4 L429.4 466.7 L430.5 465.0 L431.6 463.4 L432.7 461.8 L433.9 460.2 L435.1 458.7 L436.4 457.1 L437.7 455.6 L439.0 454.1 L440.4 452.7 L441.8 451.2 L443.2 449.8 L444.6 448.5 L446.1 447.2 L447.7 445.9 L449.2 444.6 L450.8 443.5 L452.5 442.3 L454.1 441.3 L455.8 440.2 L457.5 439.3 L459.3 438.4 L461.0 437.6 L462.8 436.8 L464.7 436.1 L466.5 435.5 L468.4 435.0 L470.3 434.6 L472.2 434.2 L474.2 433.9 L476.2 433.6 L478.1 433.4 L480.1 433.3 L482.2 433.2 L484.2 433.1 L486.2 433.1 L488.3 433.1 L490.3 433.2 L492.4 433.2 L494.4 433.3 L496.5 433.5 L498.5 433.6 L500.5 433.7 L502.6 433.9 L504.6 434.0 L506.6 434.2 L508.6 434.3 L510.6 434.4 L512.6 434.5 L514.6 434.6 L516.6 434.8 L518.6 434.8 L520.6 434.9 L522.5 435.0 L524.5 435.1 L526.5 435.1 L528.4 435.1 L530.4 435.1 L532.4 435.1 L534.3 435.1 L536.3 435.1 L538.2 435.0 L540.2 434.9 L542.2 434.8 L544.2 434.7 L546.1 434.5 L548.1 434.3 L550.1 434.1 L552.1 433.8 L554.1 433.6 L556.1 433.3 L558.1 433.0 L560.1 432.6 L562.2 432.3 L564.2 432.0 L566.2 431.7 L568.2 431.4 L570.2 431.1 L572.2 430.8 L574.2 430.6 L576.2 430.4 L578.2 430.3 L580.2 430.2 L582.2 430.1 L584.2 430.2 L586.1 430.2 L588.1 430.4 L590.0 430.6 L592.0 430.8 L593.9 431.1 L595.8 431.5 L597.7 431.9 L599.7 432.4 L601.6 432.8 L603.5 433.4 L605.4 433.9 L607.3 434.5 L609.2 435.1 L611.0 435.8 L612.9 436.5 L614.8 437.1 L616.7 437.8 L618.6 438.6 L620.5 439.3 L622.4 440.0 L624.3 440.7 L626.2 441.5 L628.1 442.2 L630.0 442.9 L631.9 443.6 L633.8 444.3 L635.7 445.0 L637.6 445.7 L639.6 446.3 L641.5 446.9 L643.4 447.5 L645.3 448.0 L647.3 448.5 L649.2 448.9 L651.1 449.2 L653.1 449.5 L655.0 449.7 L656.9 449.8 L658.9 449.9 L660.8 449.8 L662.7 449.7 L664.6 449.4 L666.6 449.1 L668.5 448.7 L670.4 448.2 L672.3 447.6 L674.2 447.0 L676.1 446.4 L678.0 445.7 L680.0 445.0 L681.9 444.3 L683.8 443.6 L685.7 442.9 L687.7 442.3 L689.6 441.7 L691.5 441.1 L693.5 440.6 L695.4 440.1 L697.4 439.6 L699.3 439.1 L701.3 438.7 L703.2 438.3 L705.2 437.9 L707.1 437.6 L709.1 437.3 L711.1 437.0 L713.1 436.7 L715.0 436.5 L717.0 436.2 L719.0 436.1 L721.0 435.9 L722.9 435.7 L724.9 435.6 L726.9 435.5 L728.9 435.4 L730.9 435.4 L732.9 435.4 L734.8 435.3 L736.8 435.3 L738.8 435.4 L740.8 435.4 L742.8 435.5 L744.8 435.5 L746.8 435.6 L748.8 435.7 L750.7 435.8 L752.7 436.0 L754.7 436.1 L756.7 436.3 L758.7 436.4 L760.7 436.6 L762.7 436.8 L764.7 437.0 L766.7 437.2 L768.6 437.4 L770.6 437.6 L772.6 437.8 L774.6 438.1 L776.6 438.3 L778.6 438.5 L780.6 438.8 L782.6 439.0 L784.6 439.2 L786.6 439.5 L788.6 439.7 L790.5 439.9 L792.5 440.1 L794.5 440.4 L796.5 440.6 L798.5 440.8 L800.5 441.0 L802.5 441.2 L804.5 441.4 L806.5 441.6 L808.4 441.8 L810.4 442.0 L812.4 442.1 L814.4 442.3 L816.4 442.4 L818.4 442.5 L820.4 442.6 L822.4 442.7 L824.3 442.8 L826.3 442.9 L828.3 442.9 L830.3 442.9 L832.3 442.9 L834.3 442.9 L836.2 442.9 L838.2 442.9 L840.2 442.8 L842.2 442.7 L844.2 442.6 L846.1 442.4 L848.1 442.3 L850.1 442.1 L852.1 441.9 L854.0 441.6 L856.0 441.3 L858.0 441.0 L860.0 440.7 L861.9 440.3 L863.9 439.9 L865.9 439.5 L867.8 439.1 L869.8 438.6 L871.8 438.2 L873.7 437.7 L875.7 437.2 L877.7 436.6 L879.6 436.1 L881.6 435.6 L883.6 435.0 L885.5 434.5 L887.5 433.9 L889.5 433.4 L891.4 432.8 L893.4 432.3 L895.3 431.7 L897.3 431.2 L899.3 430.7 L901.2 430.2 L903.2 429.7 L905.1 429.2 L907.1 428.8 L909.0 428.4 L911.0 428.0 L913.0 427.6 L914.9 427.2 L916.9 426.9 L918.8 426.6 L920.8 426.4 L922.7 426.2 L924.7 426.0 L926.6 425.9 L928.6 425.8 L930.5 425.8 L932.5 425.8 L934.5 425.8 L936.4 425.9 L938.4 426.0 L940.3 426.2 L942.3 426.4 L944.2 426.6 L946.2 426.8 L948.1 427.1 L950.1 427.4 L952.0 427.7 L954.0 428.1 L956.0 428.4 L957.9 428.8 L959.9 429.2 L961.8 429.6 L963.8 430.1 L965.8 430.5 L967.7 431.0 L969.7 431.4 L971.6 431.9 L973.6 432.4 L975.6 432.9 L977.5 433.4 L979.5 433.9 L981.5 434.4 L983.4 434.9 L985.4 435.3 L987.4 435.8 L989.4 436.3 L991.3 436.8 L993.3 437.3 L995.3 437.7 L997.3 438.2 L999.3 438.6 L1001.2 439.0 L1003.2 439.5 L1005.2 439.9 L1007.2 440.2 L1009.2 440.6 L1011.2 441.0 L1013.2 441.3 L1015.2 441.7 L1017.1 442.0 L1019.1 442.3 L1021.1 442.6 L1023.1 442.9 L1025.1 443.2 L1027.1 443.4 L1029.1 443.6 L1031.1 443.9 L1033.0 444.0 L1035.0 444.2 L1037.0 444.4 L1039.0 444.5 L1041.0 444.6 L1043.0 444.7 L1044.9 444.8 L1046.9 444.9 L1048.9 444.9 L1050.9 444.9 L1052.9 444.9 L1054.8 444.9 L1056.8 444.8 L1058.8 444.8 L1060.7 444.7 L1062.7 444.5 L1064.7 444.4 L1066.6 444.2 L1068.6 444.0 L1070.5 443.8 L1072.5 443.5 L1074.4 443.2 L1076.4 442.9 L1078.3 442.6 L1080.3 442.2 L1082.2 441.8 L1084.1 441.4 L1086.1 441.0 L1088.0 440.5 L1089.9 440.0 L1091.8 439.4 L1093.7 438.9 L1095.7 438.3 L1097.6 437.7 L1099.5 437.1 L1101.4 436.5 L1103.3 435.8 L1105.2 435.2 L1107.1 434.5 L1109.0 433.8 L1110.9 433.2 L1112.9 432.5 L1114.8 431.8 L1116.7 431.2 L1118.6 430.5 L1120.5 429.9 L1122.5 429.2 L1124.4 428.6 L1126.3 428.0 L1128.3 427.4 L1130.2 426.8 L1132.1 426.2 L1134.1 425.7 L1136.0 425.2 L1138.0 424.7 L1140.0 424.3 L1141.9 423.8 L1143.9 423.5 L1145.8 423.2 L1147.8 422.9 L1149.7 422.7 L1151.7 422.5 L1153.7 422.4 L1155.6 422.3 L1157.5 422.3 L1159.5 422.4 L1161.4 422.6 L1163.3 422.8 L1165.2 423.1 L1167.1 423.5 L1169.0 423.9 L1170.9 424.4 L1172.8 425.0 L1174.7 425.6 L1176.6 426.2 L1178.5 426.9 L1180.4 427.6 L1182.2 428.4 L1184.1 429.2 L1186.0 430.0 L1187.8 430.8 L1189.7 431.6 L1191.6 432.5 L1193.5 433.3 L1195.3 434.2 L1197.2 435.0 L1199.1 435.9 L1201.0 436.7 L1202.9 437.5 L1204.7 438.2 L1206.6 439.0 L1208.5 439.7 L1210.5 440.3 L1212.4 440.9 L1214.3 441.5 L1216.2 442.0 L1218.2 442.5 L1220.1 442.9 L1222.1 443.2 L1224.0 443.5 L1226.0 443.8 L1228.0 444.0 L1229.9 444.2 L1231.9 444.3 L1233.9 444.3 L1235.8 444.4 L1237.8 444.3 L1239.8 444.3 L1241.7 444.1 L1243.7 444.0 L1245.6 443.8 L1247.6 443.5 L1249.5 443.2 L1251.5 442.8 L1253.4 442.4 L1255.3 442.0 L1257.2 441.5 L1259.1 441.0 L1261.0 440.4 L1262.9 439.8 L1264.8 439.2 L1266.6 438.5 L1268.5 437.8 L1270.3 437.0 L1272.1 436.2 L1273.9 435.3 L1275.7 434.4 L1277.5 433.5 L1279.2 432.5 L1281.0 431.5 L1282.7 430.5 L1284.4 429.4 L1286.0 428.3 L1287.7 427.2 L1289.3 426.0 L1291.0 424.8 L1292.6 423.6 L1294.2 422.4 L1295.8 421.2 L1297.4 419.9 L1299.0 418.7 L1300.6 417.4 L1302.2 416.1 L1303.7 414.8 L1305.3 413.5 L1306.9 412.2 L1308.4 410.9 L1310.0 409.7 L1311.6 408.4 L1313.1 407.1 L1314.7 405.9 L1316.2 404.6 L1317.8 403.4 L1319.4 402.2 L1321.0 401.0 L1322.6 399.8 L1324.2 398.7 L1325.8 397.6 L1327.4 396.5 L1329.0 395.4 L1330.7 394.4"/>
<path stroke="#37AD6B" d="M344.4 716.3 L344.8 714.3 L345.2 712.4 L345.7 710.4 L346.1 708.5 L346.6 706.5 L347.0 704.5 L347.5 702.6 L348.0 700.7 L348.4 698.7 L348.9 696.8 L349.4 694.8 L349.9 692.9 L350.4 691.0 L350.9 689.0 L351.4 687.1 L351.9 685.2 L352.4 683.2 L352.9 681.3 L353.4 679.4 L353.9 677.4 L354.5 675.5 L355.0 673.6 L355.5 671.7 L356.1 669.8 L356.6 667.8 L357.2 665.9 L357.7 664.0 L358.3 662.1 L358.8 660.2 L359.4 658.3 L359.9 656.3 L360.5 654.4 L361.0 652.5 L361.6 650.6 L362.2 648.7 L362.7 646.8 L363.3 644.9 L363.9 643.0 L364.4 641.1 L365.0 639.1 L365.6 637.2 L366.2 635.3 L366.7 633.4 L367.3 631.5 L367.9 629.6 L368.5 627.7 L369.0 625.8 L369.6 623.9 L370.2 621.9 L370.8 620.0 L371.3 618.1 L371.9 616.2 L372.5 614.3 L373.1 612.4 L373.6 610.4 L374.2 608.5 L374.8 606.6 L375.3 604.7 L375.9 602.8 L376.5 600.8 L377.1 598.9 L377.6 597.0 L378.2 595.1 L378.8 593.2 L379.4 591.3 L380.0 589.3 L380.6 587.4 L381.2 585.5 L381.8 583.6 L382.4 581.7 L383.1 579.8 L383.7 577.9 L384.3 576.0 L385.0 574.2 L385.7 572.3 L386.4 570.4 L387.0 568.5 L387.8 566.7 L388.5 564.8 L389.2 563.0 L390.0 561.1 L390.7 559.3 L391.5 557.5 L392.3 555.6 L393.1 553.8 L394.0 552.0 L394.8 550.2 L395.7 548.4 L396.6 546.7 L397.5 544.9 L398.5 543.1 L399.4 541.4 L400.4 539.7 L401.4 537.9 L402.5 536.2 L403.5 534.5 L404.6 532.8 L405.7 531.2 L406.8 529.5 L408.0 527.9 L409.2 526.2 L410.4 524.6 L411.6 523.0 L412.8 521.5 L414.1 519.9 L415.4 518.4 L416.7 516.8 L418.0 515.3 L419.3 513.9 L420.7 512.4 L422.1 511.0 L423.5 509.6 L424.9 508.2 L426.4 506.8 L427.9 505.5 L429.4 504.2 L430.9 502.9 L432.4 501.6 L434.0 500.4 L435.5 499.2 L437.1 498.0 L438.7 496.9 L440.4 495.8 L442.0 494.7 L443.7 493.6 L445.4 492.6 L447.1 491.6 L448.8 490.7 L450.5 489.7 L452.3 488.9 L454.1 488.0 L455.9 487.2 L457.7 486.4 L459.5 485.7 L461.3 485.0 L463.2 484.3 L465.1 483.7 L467.0 483.1 L468.9 482.6 L470.8 482.1 L472.7 481.6 L474.7 481.1 L476.6 480.7 L478.6 480.3 L480.6 480.0 L482.5 479.7 L484.5 479.4 L486.5 479.1 L488.5 478.9 L490.5 478.7 L492.5 478.5 L494.5 478.3 L496.6 478.2 L498.6 478.1 L500.6 478.0 L502.6 478.0 L504.6 477.9 L506.7 477.9 L508.7 478.0 L510.7 478.0 L512.7 478.0 L514.7 478.1 L516.7 478.2 L518.7 478.3 L520.7 478.4 L522.7 478.5 L524.6 478.6 L526.6 478.7 L528.6 478.8 L530.6 478.9 L532.5 478.9 L534.5 478.9 L536.5 478.8 L538.5 478.8 L540.4 478.6 L542.4 478.4 L544.4 478.2 L546.3 477.9 L548.3 477.6 L550.3 477.3 L552.3 476.9 L554.2 476.5 L556.2 476.1 L558.2 475.6 L560.2 475.2 L562.1 474.7 L564.1 474.3 L566.1 473.8 L568.0 473.3 L570.0 472.9 L572.0 472.5 L573.9 472.1 L575.9 471.7 L577.9 471.3 L579.8 471.0 L581.8 470.7 L583.7 470.4 L585.7 470.2 L587.6 470.1 L589.6 470.0 L591.5 469.9 L593.5 469.9 L595.4 469.9 L597.4 470.0 L599.3 470.1 L601.3 470.2 L603.2 470.4 L605.2 470.6 L607.1 470.9 L609.0 471.2 L611.0 471.5 L612.9 471.9 L614.8 472.3 L616.7 472.7 L618.7 473.2 L620.6 473.6 L622.5 474.2 L624.4 474.7 L626.3 475.3 L628.2 475.9 L630.1 476.6 L632.1 477.2 L634.0 477.9 L635.9 478.6 L637.8 479.3 L639.7 480.0 L641.6 480.7 L643.5 481.5 L645.4 482.2 L647.3 482.9 L649.2 483.6 L651.1 484.3 L653.0 485.0 L654.9 485.7 L656.8 486.4 L658.7 487.0 L660.6 487.6 L662.5 488.2 L664.4 488.8 L666.3 489.3 L668.2 489.8 L670.2 490.2 L672.1 490.6 L674.0 491.0 L676.0 491.3 L677.9 491.5 L679.8 491.7 L681.8 491.9 L683.7 492.0 L685.7 492.1 L687.6 492.2 L689.6 492.2 L691.6 492.1 L693.5 492.1 L695.5 492.0 L697.5 491.9 L699.4 491.7 L701.4 491.5 L703.4 491.3 L705.3 491.0 L707.3 490.7 L709.3 490.4 L711.3 490.1 L713.2 489.8 L715.2 489.4 L717.2 489.0 L719.2 488.6 L721.2 488.1 L723.1 487.7 L725.1 487.2 L727.1 486.7 L729.1 486.3 L731.1 485.7 L733.0 485.2 L735.0 484.7 L737.0 484.2 L739.0 483.6 L740.9 483.1 L742.9 482.5 L744.9 481.9 L746.9 481.4 L748.8 480.8 L750.8 480.2 L752.8 479.7 L754.7 479.1 L756.7 478.5 L758.6 478.0 L760.6 477.4 L762.5 476.9 L764.5 476.4 L766.4 475.8 L768.4 475.3 L770.3 474.8 L772.2 474.3 L774.2 473.8 L776.1 473.4 L778.0 473.0 L780.0 472.6 L781.9 472.2 L783.8 471.8 L785.8 471.5 L787.7 471.2 L789.6 471.0 L791.6 470.7 L793.5 470.6 L795.5 470.4 L797.4 470.3 L799.4 470.3 L801.3 470.3 L803.3 470.3 L805.2 470.4 L807.2 470.5 L809.2 470.7 L811.2 470.9 L813.1 471.1 L815.1 471.4 L817.1 471.6 L819.1 472.0 L821.0 472.3 L823.0 472.7 L825.0 473.0 L827.0 473.4 L828.9 473.8 L830.9 474.2 L832.9 474.6 L834.9 475.0 L836.8 475.3 L838.8 475.7 L840.8 476.0 L842.8 476.3 L844.8 476.5 L846.7 476.7 L848.7 476.9 L850.7 477.0 L852.7 477.2 L854.7 477.2 L856.6 477.3 L858.6 477.3 L860.6 477.4 L862.6 477.4 L864.6 477.3 L866.6 477.3 L868.6 477.2 L870.5 477.2 L872.5 477.1 L874.5 477.0 L876.5 476.9 L878.5 476.8 L880.5 476.6 L882.5 476.5 L884.5 476.4 L886.4 476.3 L888.4 476.1 L890.4 476.0 L892.4 475.9 L894.4 475.8 L896.4 475.6 L898.4 475.5 L900.4 475.4 L902.3 475.2 L904.3 475.1 L906.3 474.9 L908.3 474.8 L910.3 474.7 L912.3 474.5 L914.3 474.4 L916.3 474.2 L918.2 474.1 L920.2 473.9 L922.2 473.8 L924.2 473.6 L926.2 473.5 L928.2 473.3 L930.2 473.2 L932.2 473.0 L934.2 472.8 L936.2 472.7 L938.1 472.5 L940.1 472.4 L942.1 472.2 L944.1 472.0 L946.1 471.9 L948.1 471.7 L950.1 471.5 L952.1 471.4 L954.1 471.2 L956.1 471.0 L958.1 470.9 L960.0 470.7 L962.0 470.5 L964.0 470.3 L966.0 470.2 L968.0 470.0 L970.0 469.8 L972.0 469.7 L974.0 469.5 L976.0 469.3 L978.0 469.1 L980.0 469.0 L982.0 468.8 L984.0 468.6 L985.9 468.4 L987.9 468.3 L989.9 468.1 L991.9 467.9 L993.9 467.7 L995.9 467.6 L997.9 467.4 L999.9 467.2 L1001.9 467.0 L1003.9 466.9 L1005.9 466.7 L1007.9 466.5 L1009.9 466.4 L1011.9 466.2 L1013.9 466.0 L1015.9 465.9 L1017.9 465.7 L1019.9 465.6 L1021.9 465.4 L1023.9 465.3 L1025.8 465.1 L1027.8 465.0 L1029.8 464.8 L1031.8 464.7 L1033.8 464.5 L1035.8 464.4 L1037.8 464.2 L1039.8 464.1 L1041.8 464.0 L1043.8 463.9 L1045.8 463.7 L1047.8 463.6 L1049.8 463.5 L1051.8 463.4 L1053.8 463.3 L1055.8 463.1 L1057.8 463.0 L1059.8 462.9 L1061.8 462.8 L1063.8 462.7 L1065.8 462.7 L1067.8 462.6 L1069.7 462.5 L1071.7 462.4 L1073.7 462.3 L1075.7 462.3 L1077.7 462.2 L1079.7 462.1 L1081.7 462.1 L1083.7 462.0 L1085.7 462.0 L1087.7 462.0 L1089.7 461.9 L1091.7 461.9 L1093.7 461.9 L1095.7 461.8 L1097.7 461.8 L1099.7 461.8 L1101.7 461.8 L1103.7 461.8 L1105.6 461.8 L1107.6 461.8 L1109.6 461.9 L1111.6 461.9 L1113.6 461.9 L1115.6 462.0 L1117.6 462.0 L1119.6 462.1 L1121.6 462.1 L1123.6 462.2 L1125.6 462.3 L1127.6 462.3 L1129.5 462.4 L1131.5 462.5 L1133.5 462.6 L1135.5 462.7 L1137.5 462.9 L1139.5 463.0 L1141.5 463.1 L1143.5 463.2 L1145.5 463.4 L1147.5 463.5 L1149.4 463.7 L1151.4 463.9 L1153.4 464.1 L1155.4 464.2 L1157.4 464.4 L1159.4 464.6 L1161.4 464.9 L1163.4 465.1 L1165.3 465.3 L1167.3 465.5 L1169.3 465.8 L1171.3 466.1 L1173.3 466.3 L1175.3 466.6 L1177.3 466.9 L1179.2 467.2 L1181.2 467.5 L1183.2 467.7 L1185.2 468.0 L1187.2 468.3 L1189.2 468.6 L1191.1 468.8 L1193.1 469.1 L1195.1 469.3 L1197.1 469.6 L1199.1 469.8 L1201.1 469.9 L1203.1 470.1 L1205.0 470.2 L1207.0 470.3 L1209.0 470.4 L1211.0 470.5 L1213.0 470.5 L1215.0 470.6 L1217.0 470.5 L1219.0 470.5 L1221.0 470.5 L1222.9 470.4 L1224.9 470.3 L1226.9 470.2 L1228.9 470.1 L1230.9 470.0 L1232.9 469.8 L1234.9 469.7 L1236.9 469.5 L1238.9 469.3 L1240.8 469.1 L1242.8 468.9 L1244.8 468.7 L1246.8 468.4 L1248.8 468.2 L1250.8 467.9 L1252.7 467.6 L1254.7 467.4 L1256.7 467.1 L1258.7 466.8 L1260.6 466.5 L1262.6 466.2 L1264.6 465.8 L1266.6 465.5 L1268.5 465.2 L1270.5 464.8 L1272.5 464.5 L1274.4 464.1 L1276.4 463.8 L1278.4 463.4 L1280.4 463.1 L1282.3 462.7 L1284.3 462.3 L1286.3 461.9 L1288.2 461.6 L1290.2 461.2 L1292.1 460.8 L1294.1 460.4 L1296.1 460.0 L1298.0 459.6 L1300.0 459.2 L1302.0 458.9 L1303.9 458.5 L1305.9 458.1 L1307.8 457.7 L1309.8 457.3 L1311.8 456.9 L1313.7 456.6 L1315.7 456.2 L1317.6 455.8 L1319.6 455.4 L1321.5 455.1 L1323.5 454.7 L1325.5 454.4 L1327.4 454.0 L1329.4 453.7"/>
</g>
</svg>
</body></html>
